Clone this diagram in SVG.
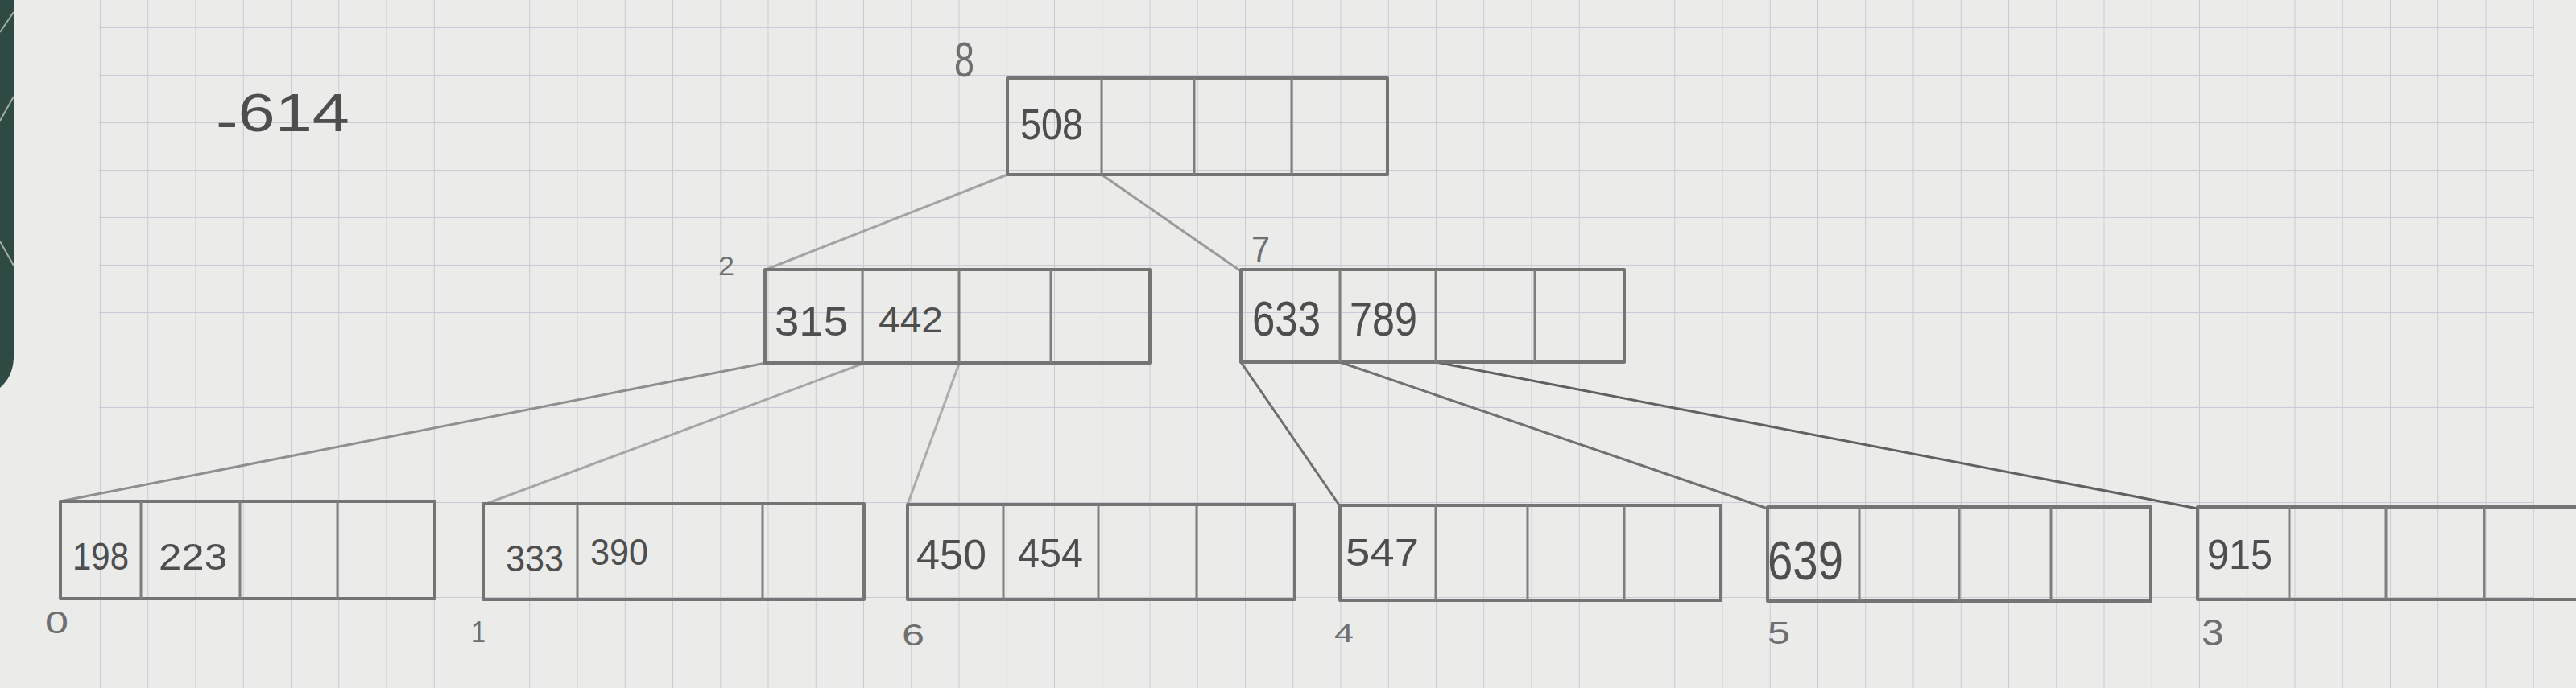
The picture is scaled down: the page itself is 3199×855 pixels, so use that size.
<svg xmlns="http://www.w3.org/2000/svg" width="3199" height="855" viewBox="0 0 3199 855">
  <style>
    .cell { fill: none; stroke: #747474; stroke-width: 4; stroke-linejoin: round; }
    .div { stroke: #7e7e7e; stroke-width: 3; }
    .num { font-family: "Liberation Sans", "DejaVu Sans", sans-serif; fill: #4e4e4e; }
    .idx { font-family: "Liberation Sans", "DejaVu Sans", sans-serif; fill: #6f6f6f; }
    .conn { stroke-width: 3; stroke-linecap: round; fill: none; }
  </style>
  <defs>
    <pattern id="grid" x="124" y="34" width="59.25" height="59" patternUnits="userSpaceOnUse">
      <path d="M0 0 V59 M0 0 H59.25" fill="none" stroke="#c6cbd6" stroke-width="2"/>
    </pattern>
  </defs>

  <!-- paper -->
  <rect x="0" y="0" width="3199" height="855" fill="#ebebea"/>
  <rect x="123" y="0" width="3024" height="855" fill="url(#grid)"/>
  <!-- photo background strip at left edge -->
  <path d="M0 0 H17 V445 Q16 468 0 482 Z" fill="#2e4a43"/>
  <path d="M0 40 L17 15 M0 150 L17 120 M0 300 L17 330" stroke="#9db0a9" stroke-width="2" fill="none"/>

  <!-- free text -->
  <text class="num" x="268" y="163" font-size="66" textLength="166" lengthAdjust="spacingAndGlyphs"><tspan dy="10">-</tspan><tspan dy="-10">614</tspan></text>

  <!-- connectors -->
  <g id="connectors">
    <line class="conn" x1="1251" y1="217" x2="951" y2="335" stroke="#a3a3a3"/>
    <line class="conn" x1="1368" y1="217" x2="1541" y2="337" stroke="#9a9a9a"/>
    <line class="conn" x1="951" y1="451" x2="75" y2="623" stroke="#8f8f8f"/>
    <line class="conn" x1="1071" y1="452" x2="601" y2="627" stroke="#a6a6a6"/>
    <line class="conn" x1="1191" y1="452" x2="1127" y2="627" stroke="#acacac"/>
    <line class="conn" x1="1541" y1="450" x2="1664" y2="629" stroke="#6f6f6f"/>
    <line class="conn" x1="1664" y1="450" x2="2195" y2="632" stroke="#707070"/>
    <line class="conn" x1="1783" y1="450" x2="2729" y2="632" stroke="#606060"/>
  </g>

  <!-- root node 8 -->
  <g id="node-8">
    <rect class="cell" x="1251" y="97" width="472" height="120"/>
    <line class="div" x1="1368" y1="97" x2="1368" y2="217"/>
    <line class="div" x1="1483" y1="97" x2="1483" y2="217"/>
    <line class="div" x1="1604" y1="97" x2="1604" y2="217"/>
    <text class="num" x="1267" y="173" font-size="54" textLength="78" lengthAdjust="spacingAndGlyphs">508</text>
    <text class="idx" x="1185" y="95" font-size="62" textLength="25" lengthAdjust="spacingAndGlyphs">8</text>
  </g>

  <!-- node 2 -->
  <g id="node-2">
    <rect class="cell" x="950" y="335" width="478" height="116"/>
    <line class="div" x1="1071" y1="335" x2="1071" y2="451"/>
    <line class="div" x1="1191" y1="335" x2="1191" y2="451"/>
    <line class="div" x1="1305" y1="335" x2="1305" y2="451"/>
    <text class="num" x="962" y="417" font-size="50" textLength="91" lengthAdjust="spacingAndGlyphs" fill="#5a5a5a">315</text>
    <text class="num" x="1091" y="413" font-size="44" textLength="80" lengthAdjust="spacingAndGlyphs">442</text>
    <text class="idx" x="892" y="342" font-size="34" textLength="20" lengthAdjust="spacingAndGlyphs" fill="#4a4a4a">2</text>
  </g>

  <!-- node 7 -->
  <g id="node-7">
    <rect class="cell" x="1541" y="335" width="476" height="115"/>
    <line class="div" x1="1664" y1="335" x2="1664" y2="450"/>
    <line class="div" x1="1783" y1="335" x2="1783" y2="450"/>
    <line class="div" x1="1906" y1="335" x2="1906" y2="450"/>
    <text class="num" x="1555" y="417" font-size="62" textLength="85" lengthAdjust="spacingAndGlyphs">633</text>
    <text class="num" x="1676" y="417" font-size="60" textLength="84" lengthAdjust="spacingAndGlyphs">789</text>
    <text class="idx" x="1554" y="325" font-size="44" textLength="23" lengthAdjust="spacingAndGlyphs" fill="#4a4a4a">7</text>
  </g>

  <!-- leaf 0 -->
  <g id="node-0">
    <rect class="cell" x="75" y="623" width="465" height="121"/>
    <line class="div" x1="175" y1="623" x2="175" y2="744"/>
    <line class="div" x1="298" y1="623" x2="298" y2="744"/>
    <line class="div" x1="419" y1="623" x2="419" y2="744"/>
    <text class="num" x="90" y="708" font-size="48" textLength="70" lengthAdjust="spacingAndGlyphs">198</text>
    <text class="num" x="197" y="708" font-size="46" textLength="85" lengthAdjust="spacingAndGlyphs">223</text>
    <text class="idx" x="56" y="787" font-size="38" textLength="29" lengthAdjust="spacingAndGlyphs" fill="#555">0</text>
  </g>

  <!-- leaf 1 -->
  <g id="node-1">
    <rect class="cell" x="600" y="626" width="473" height="119"/>
    <line class="div" x1="717" y1="626" x2="717" y2="745"/>
    <line class="div" x1="947" y1="626" x2="947" y2="745"/>
    <text class="num" x="628" y="710" font-size="46" textLength="72" lengthAdjust="spacingAndGlyphs">333</text>
    <text class="num" x="733" y="702" font-size="46" textLength="72" lengthAdjust="spacingAndGlyphs">390</text>
    <text class="idx" x="586" y="798" font-size="36" textLength="17" lengthAdjust="spacingAndGlyphs" fill="#555">1</text>
  </g>

  <!-- leaf 6 -->
  <g id="node-6">
    <rect class="cell" x="1127" y="627" width="481" height="118"/>
    <line class="div" x1="1246" y1="627" x2="1246" y2="745"/>
    <line class="div" x1="1364" y1="627" x2="1364" y2="745"/>
    <line class="div" x1="1486" y1="627" x2="1486" y2="745"/>
    <text class="num" x="1138" y="707" font-size="52" textLength="87" lengthAdjust="spacingAndGlyphs" fill="#5a5a5a">450</text>
    <text class="num" x="1264" y="705" font-size="50" textLength="81" lengthAdjust="spacingAndGlyphs">454</text>
    <text class="idx" x="1120" y="802" font-size="36" textLength="28" lengthAdjust="spacingAndGlyphs" fill="#8a8a8a">6</text>
  </g>

  <!-- leaf 4 -->
  <g id="node-4">
    <rect class="cell" x="1664" y="628" width="473" height="118"/>
    <line class="div" x1="1783" y1="628" x2="1783" y2="746"/>
    <line class="div" x1="1897" y1="628" x2="1897" y2="746"/>
    <line class="div" x1="2017" y1="628" x2="2017" y2="746"/>
    <text class="num" x="1671" y="703" font-size="48" textLength="91" lengthAdjust="spacingAndGlyphs">547</text>
    <text class="idx" x="1657" y="798" font-size="32" textLength="24" lengthAdjust="spacingAndGlyphs" fill="#8a8a8a">4</text>
  </g>

  <!-- leaf 5 -->
  <g id="node-5">
    <rect class="cell" x="2195" y="630" width="476" height="117"/>
    <line class="div" x1="2309" y1="630" x2="2309" y2="747"/>
    <line class="div" x1="2433" y1="630" x2="2433" y2="747"/>
    <line class="div" x1="2547" y1="630" x2="2547" y2="747"/>
    <text class="num" x="2195" y="720" font-size="68" textLength="94" lengthAdjust="spacingAndGlyphs">639</text>
    <text class="idx" x="2195" y="800" font-size="38" textLength="28" lengthAdjust="spacingAndGlyphs" fill="#8a8a8a">5</text>
  </g>

  <!-- leaf 3 -->
  <g id="node-3">
    <rect class="cell" x="2729" y="630" width="490" height="115"/>
    <line class="div" x1="2843" y1="630" x2="2843" y2="745"/>
    <line class="div" x1="2963" y1="630" x2="2963" y2="745"/>
    <line class="div" x1="3085" y1="630" x2="3085" y2="745"/>
    <text class="num" x="2741" y="707" font-size="52" textLength="81" lengthAdjust="spacingAndGlyphs">915</text>
    <text class="idx" x="2734" y="802" font-size="46" textLength="28" lengthAdjust="spacingAndGlyphs" fill="#8a8a8a">3</text>
  </g>
</svg>
